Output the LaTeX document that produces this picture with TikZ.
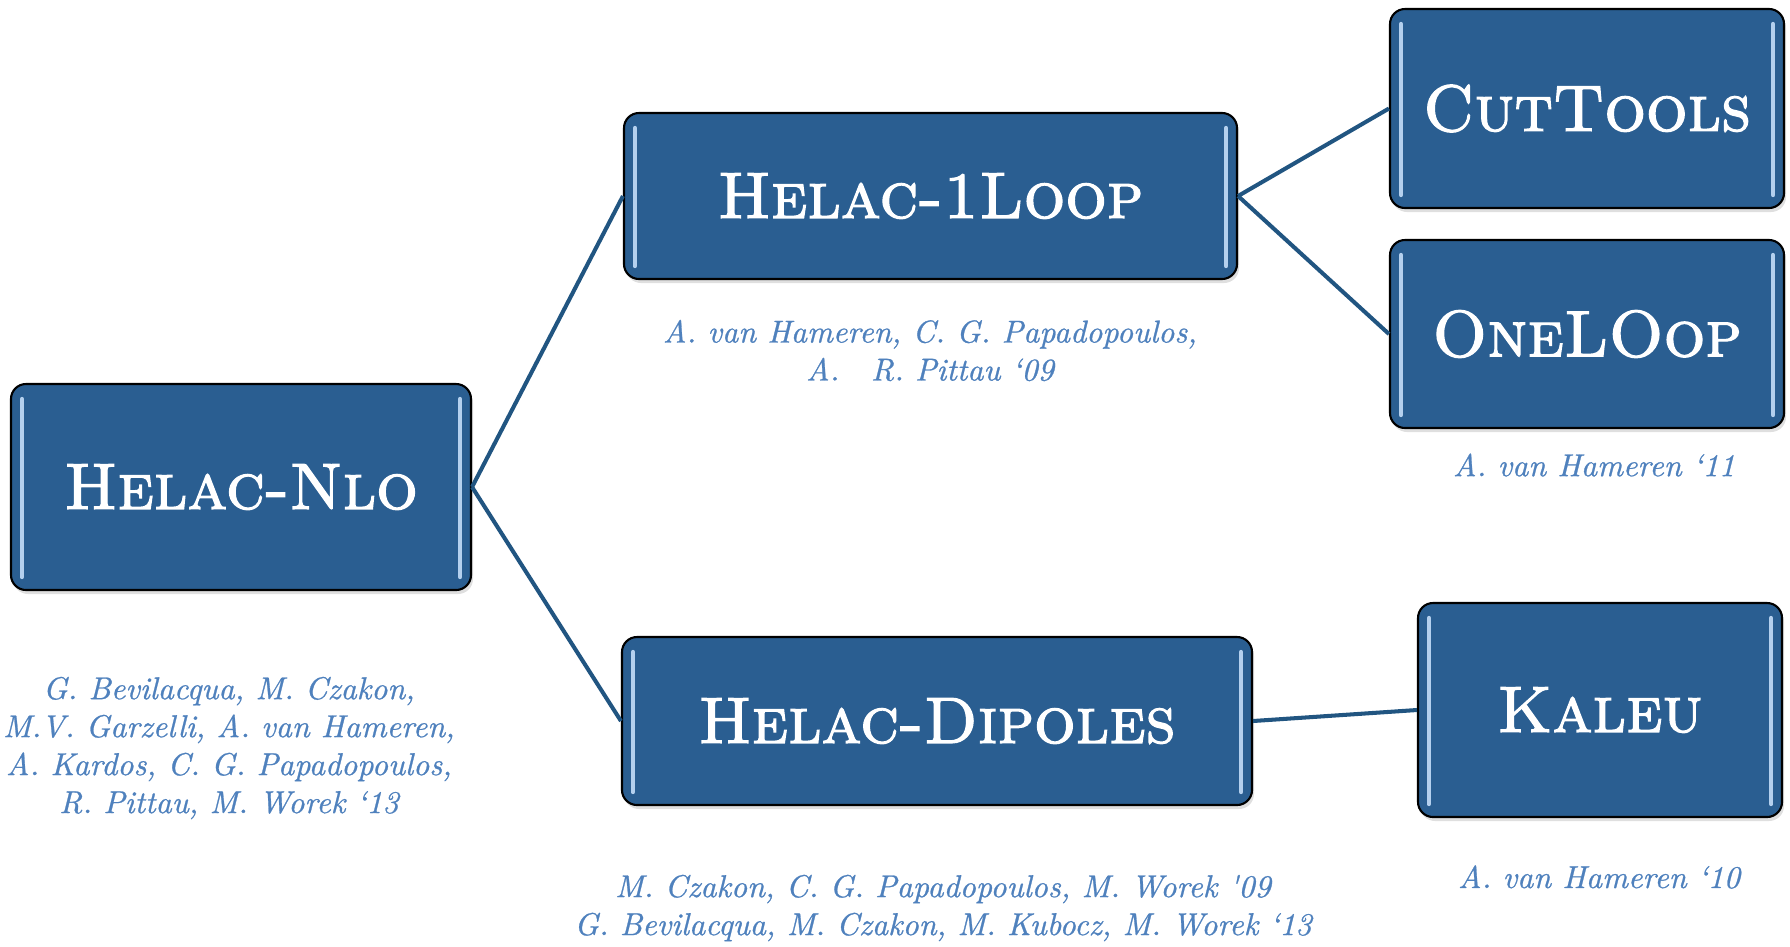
\documentclass[tikz,border=0pt]{standalone}
\usepackage{fontspec}
\usepackage{tikz}
\usetikzlibrary{calc,shadows}
\newfontfamily\capsfont{lmromancaps10-regular}[Extension=.otf,FakeBold=2]
\newfontfamily\citefont{lmroman10-italic}[Extension=.otf,Ligatures=TeX,FakeBold=0.8]
\definecolor{boxfill}{HTML}{2A5E91}
\definecolor{gloss}{HTML}{B4D0EE}
\definecolor{link}{HTML}{215581}
\definecolor{citeblue}{HTML}{4F81BD}

\begin{document}
\begin{tikzpicture}[
  prog/.style={draw=black,line width=0.6pt,fill=boxfill,rounded corners=0.15cm,text=white,inner sep=0pt,
    font=\capsfont\fontsize{18.6}{22}\selectfont,
    drop shadow={shadow xshift=0.02,shadow yshift=-0.04,opacity=0.25}},
  strip/.style={gloss,line width=1.2pt,line cap=round},
  refs/.style={text=citeblue,font=\citefont\fontsize{9}{10.8}\selectfont,align=center},
  link/.style={draw=link,line width=1.15pt}]
  \useasboundingbox (0,0) rectangle (17.9,-9.46);
  \node[prog,minimum width=4.6cm,minimum height=2.06cm] (nlo) at (2.41,-4.87) {Helac-Nlo};
  \node[prog,minimum width=6.13cm,minimum height=1.66cm] (loop) at (9.305,-1.96) {Helac-1Loop};
  \node[prog,minimum width=3.94cm,minimum height=1.99cm] (cut) at (15.87,-1.085) {CutTools};
  \node[prog,minimum width=3.94cm,minimum height=1.88cm] (one) at (15.87,-3.34) {OneLOop};
  \node[prog,minimum width=6.30cm,minimum height=1.68cm] (dip) at (9.37,-7.21) {Helac-Dipoles};
  \node[prog,minimum width=3.64cm,minimum height=2.14cm] (kal) at (16.00,-7.10) {Kaleu};
  \foreach \n in {nlo,loop,cut,one,dip,kal} {
    \draw[strip] ($(\n.north west)+(0.12,-0.16)$) -- ($(\n.south west)+(0.12,0.14)$);
    \draw[strip] ($(\n.north east)+(-0.12,-0.16)$) -- ($(\n.south east)+(-0.12,0.14)$);
  }
  \draw[link] (nlo.east) -- (loop.west);
  \draw[link] (nlo.east) -- (dip.west);
  \draw[link] (loop.east) -- (cut.west);
  \draw[link] (loop.east) -- (one.west);
  \draw[link] (dip.east) -- (kal.west);
  \node[refs] (nlocite) at (2.29,-7.48) {G. Bevilacqua, M. Czakon,\\M.V. Garzelli, A. van Hameren,\\A. Kardos, C. G. Papadopoulos,\\R. Pittau, M. Worek `13};
  \node[refs] (loopcite) at (9.30,-3.505) {A. van Hameren, C. G. Papadopoulos,\\A.\quad R. Pittau `09};
  \node[refs] (onecite) at (15.94,-4.65) {A. van Hameren `11};
  \node[refs] (dipcite) at (9.43,-9.08) {M. Czakon, C. G. Papadopoulos, M. Worek \textquotesingle09\\G. Bevilacqua, M. Czakon, M. Kubocz, M. Worek `13};
  \node[refs] (kalcite) at (15.99,-8.77) {A. van Hameren `10};
\end{tikzpicture}
\end{document}
